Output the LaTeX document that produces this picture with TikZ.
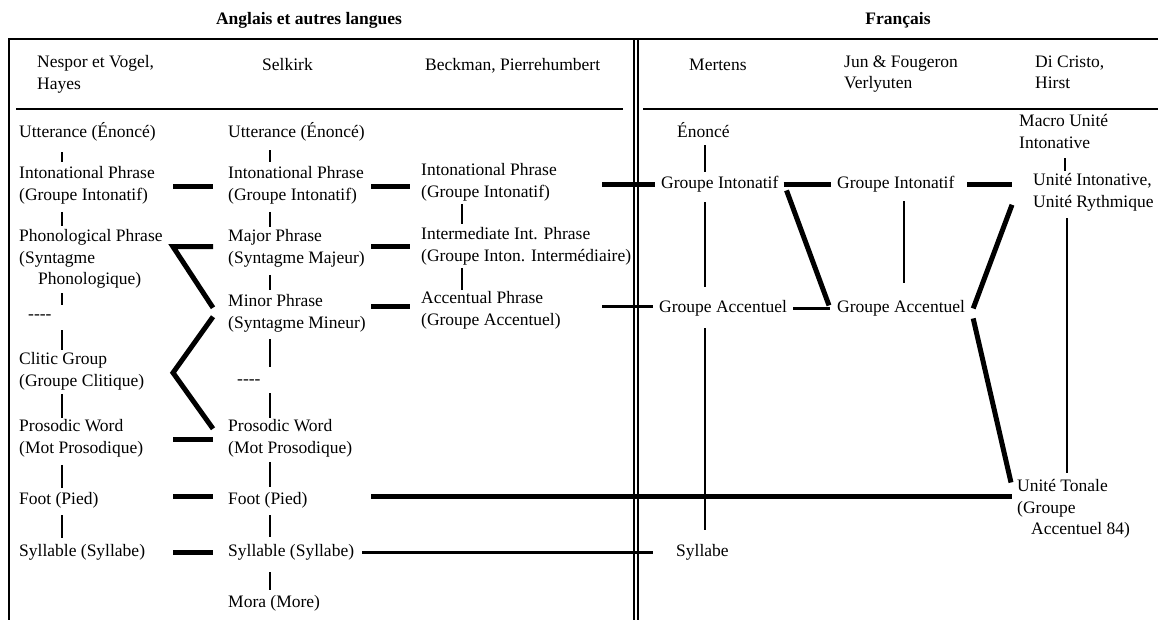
\documentclass[tikz,border=0pt]{standalone}
\usepackage{fontspec}
\setmainfont{Liberation Serif}
\begin{document}
\begin{tikzpicture}[x=1pt,y=-1pt,font=\fontsize{17.5}{21.5}\selectfont,
           text_style/.style={anchor=north west,inner sep=0pt,align=left,
             execute at begin node=\strut,execute at end node=\strut},
           head_style/.style={anchor=center,inner sep=0pt,font=\fontsize{17.5}{21.5}\selectfont\bfseries},
           frame_style/.style={draw=black,line width=1.4pt},
           thin_style/.style={draw=black,line width=1.3pt},
           link_style/.style={draw=black,line width=5pt},
           mid_style/.style={draw=black,line width=3.5pt}]
            \useasboundingbox (0,0) rectangle (1158,620);
            % frame
            \draw[frame_style] (9,620) -- (9,39) -- (1158,39);
            \draw[frame_style] (16,109) -- (623,109);
            \draw[frame_style] (643,109) -- (1158,109);
            \draw[draw=black,line width=1.2pt] (634,39) -- (634,620);
            \draw[draw=black,line width=1.2pt] (638,39) -- (638,620);
            \node[head_style] (hA) at (309,20) {Anglais et autres langues};
            \node[head_style] (hF) at (898,20) {Français};
            % column heads
            \node[text_style] (n1) at (37,55.5)   {Nespor et Vogel,\\Hayes};
            \node[text_style] (n2) at (262,55.5)  {Selkirk};
            \node[text_style] (n3) at (425,55.5)  {Beckman, Pierrehumbert};
            \node[text_style] (n4) at (689,55.5)  {Mertens};
            \node[text_style] (n5) at (844,55.5)  {Jun \& Fougeron\\Verlyuten};
            \node[text_style] (n6) at (1035,55.5) {Di Cristo,\\Hirst};
            % gutters and stems
            \coordinate (g1) at (173,0);
            \coordinate (g2) at (213,0);
            \coordinate (g3) at (371,0);
            \coordinate (g4) at (410,0);
            \coordinate (g5) at (602,0);
            \coordinate (g7) at (967,0);
            \coordinate (g8) at (1012,0);
            \coordinate (v1) at (62,0);
            \coordinate (v2) at (270,0);
            \coordinate (v3) at (462,0);
            \coordinate (v4) at (705,0);
            \coordinate (v5) at (904,0);
            \coordinate (v6) at (1065,0);
            \coordinate (v7) at (1067,0);
            % Nespor et Vogel
            \node[text_style] (ut1) at (19,122.5) {Utterance (Énoncé)};
            \node[text_style] (ip1) at (19,166.5) {Intonational Phrase\\(Groupe Intonatif)};
            \node[text_style] (pp1) at (19,229.5) {Phonological Phrase\\(Syntagme\\\hspace*{19pt}Phonologique)};
            \node[text_style] (dd1) at (28,304.5) {-{}-{}-{}-};
            \node[text_style] (cg1) at (19,352.5) {Clitic Group\\(Groupe Clitique)};
            \node[text_style] (pw1) at (19,419.5) {Prosodic Word\\(Mot Prosodique)};
            \node[text_style] (ft1) at (19,489.5) {Foot (Pied)};
            \node[text_style] (sy1) at (19,541.5) {Syllable (Syllabe)};
            % Selkirk
            \node[text_style] (ut2) at (228,122.5) {Utterance (Énoncé)};
            \node[text_style] (ip2) at (228,166.5) {Intonational Phrase\\(Groupe Intonatif)};
            \node[text_style] (mp2) at (228,229.5) {Major Phrase\\(Syntagme Majeur)};
            \node[text_style] (mn2) at (228,294.5) {Minor Phrase\\(Syntagme Mineur)};
            \node[text_style] (dd2) at (237,369.5) {-{}-{}-{}-};
            \node[text_style] (pw2) at (228,419.5) {Prosodic Word\\(Mot Prosodique)};
            \node[text_style] (ft2) at (228,489.5) {Foot (Pied)};
            \node[text_style] (sy2) at (228,541.5) {Syllable (Syllabe)};
            \node[text_style] (mo2) at (228,592.5) {Mora (More)};
            % Beckman, Pierrehumbert
            \node[text_style] (ip3) at (421,163.5) {Intonational Phrase\\(Groupe Intonatif)};
            \node[text_style] (ii3) at (421,227.5) {Intermediate Int. Phrase\\(Groupe Inton. Intermédiaire)};
            \node[text_style] (ap3) at (421,291.5) {Accentual Phrase\\(Groupe Accentuel)};
            % Mertens
            \node[text_style] (en4) at (677,122.5) {Énoncé};
            \node[text_style] (gi4) at (661,173.5) {Groupe Intonatif};
            \node[text_style] (ga4) at (659,297.5) {Groupe Accentuel};
            \node[text_style] (sy4) at (676,541.5) {Syllabe};
            % Jun & Fougeron
            \node[text_style] (gi5) at (837,173.5) {Groupe Intonatif};
            \node[text_style] (ga5) at (837,297.5) {Groupe Accentuel};
            % Di Cristo
            \node[text_style] (mu6) at (1019,114.5) {Macro Unité\\Intonative};
            \node[text_style] (ui6) at (1033,173.5) {Unité Intonative,\\Unité Rythmique};
            \node[text_style] (ut6) at (1017,479.5) {Unité Tonale\\(Groupe\\\hspace*{14pt}Accentuel 84)};
            % stems
            \draw[thin_style,shorten <=8pt,shorten >=4pt] (ut1.south -| v1) -- (ip1.north -| v1);
            \draw[thin_style,shorten <=5pt,shorten >=3pt] (ip1.south -| v1) -- (pp1.north -| v1);
            \draw[thin_style,shorten <=2pt] (pp1.south -| v1) -- (dd1.north -| v1);
            \draw[thin_style,shorten <=4pt,shorten >=3pt] (dd1.south -| v1) -- (cg1.north -| v1);
            \draw[thin_style,shorten <=1pt,shorten >=2pt] (cg1.south -| v1) -- (pw1.north -| v1);
            \draw[thin_style,shorten <=5pt,shorten >=2pt] (pw1.south -| v1) -- (ft1.north -| v1);
            \draw[thin_style,shorten <=4pt,shorten >=4pt] (ft1.south -| v1) -- (sy1.north -| v1);
            \draw[thin_style,shorten <=6pt,shorten >=4pt] (ut2.south -| v2) -- (ip2.north -| v2);
            \draw[thin_style,shorten <=5pt,shorten >=2pt] (ip2.south -| v2) -- (mp2.north -| v2);
            \draw[thin_style,shorten <=5pt,shorten >=5pt] (mp2.south -| v2) -- (mn2.north -| v2);
            \draw[thin_style,shorten <=4pt,shorten >=3pt] (mn2.south -| v2) -- (dd2.north -| v2);
            \draw[thin_style,shorten <=2pt,shorten >=2pt] (dd2.south -| v2) -- (pw2.north -| v2);
            \draw[thin_style,shorten <=2pt,shorten >=3pt] (pw2.south -| v2) -- (ft2.north -| v2);
            \draw[thin_style,shorten <=4pt,shorten >=5pt] (ft2.south -| v2) -- (sy2.north -| v2);
            \draw[thin_style,shorten <=9pt,shorten >=3pt] (sy2.south -| v2) -- (mo2.north -| v2);
            \draw[thin_style,shorten >=3pt] (ip3.south -| v3) -- (ii3.north -| v3);
            \draw[thin_style,shorten >=2pt] (ii3.south -| v3) -- (ap3.north -| v3);
            \draw[thin_style,shorten <=1pt,shorten >=1pt] (en4.south -| v4) -- (gi4.north -| v4);
            \draw[thin_style,shorten <=7pt,shorten >=11pt] (gi4.south -| v4) -- (ga4.north -| v4);
            \draw[thin_style,shorten <=9pt,shorten >=12pt] (ga4.south -| v4) -- (sy4.north -| v4);
            \draw[thin_style,shorten <=6pt,shorten >=15pt] (gi5.south -| v5) -- (ga5.north -| v5);
            \draw[thin_style,shorten <=3pt,shorten >=2pt] (mu6.south -| v6) -- (ui6.north -| v6);
            \draw[thin_style,shorten <=4pt,shorten >=7pt] (ui6.south -| v7) -- (ut6.north -| v7);
            % links between theories
            \draw[link_style] (ip1 -| g1) -- (ip2 -| g2);
            \draw[link_style] (ip2 -| g3) -- (ip2 -| g4);
            \draw[link_style] ([yshift=3pt]mp2.west -| g2) -- ([yshift=3pt]mp2.west -| g1) -- ([yshift=7pt]mn2.west -| g2);
            \draw[link_style] ([yshift=3pt]mp2.west -| g3) -- ([yshift=3pt]mp2.west -| g4);
            \draw[link_style] ([yshift=8pt]mn2.west -| g3) -- ([yshift=8pt]mn2.west -| g4);
            \draw[link_style] ([yshift=-2pt]mn2.west -| g2) -- (cg1 -| g1) -- ([yshift=11pt]pw2.west -| g2);
            \draw[link_style] (pw1 -| g1) -- (pw2 -| g2);
            \draw[link_style] ([yshift=4pt]ft1.west -| g1) -- ([yshift=4pt]ft2.west -| g2);
            \draw[link_style,shorten >=5pt] ([yshift=4pt]ft2.west -| g3) -- ([yshift=4pt]ft2.west -| ut6.west);
            \draw[link_style] (sy1 -| g1) -- (sy2 -| g2);
            \draw[mid_style,shorten <=8pt,shorten >=23pt] (sy2.east) -- (sy4.west);
            \draw[link_style,shorten >=6pt] (gi4 -| g5) -- (gi4.west);
            \draw[mid_style,shorten >=6pt] ([yshift=2pt]ga4.west -| g5) -- ([yshift=2pt]ga4.west);
            \draw[link_style,shorten <=5pt,shorten >=6pt] (gi4.east) -- (gi5.west);
            \draw[link_style] ([xshift=8pt,yshift=5pt]gi4.south east) -- ([xshift=-8pt,yshift=3pt]ga5.west);
            \draw[mid_style,shorten <=6pt,shorten >=7pt] (ga4.east) -- (ga5.west);
            \draw[link_style] (gi5 -| g7) -- (gi5 -| g8);
            \draw[link_style] ([xshift=8pt]ga5.east) -- ([xshift=-21pt,yshift=-11pt]ui6.west);
            \draw[link_style] ([xshift=8pt,yshift=-10pt]ga5.east) -- ([xshift=-6pt,yshift=-3pt]ut6.north west);
        \end{tikzpicture}
\end{document}
